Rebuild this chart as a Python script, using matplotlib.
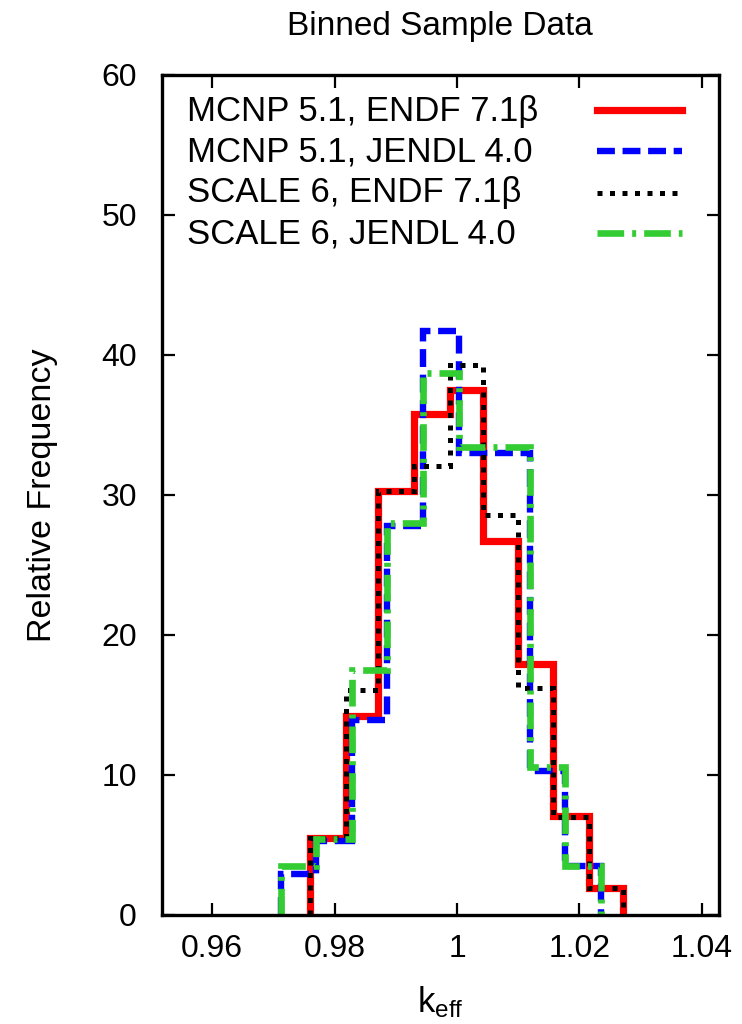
import matplotlib
matplotlib.use("Agg")
import matplotlib.pyplot as plt
from matplotlib.lines import Line2D

plt.rcParams['font.family'] = ['Liberation Sans', 'DejaVu Sans']
plt.rcParams['mathtext.fontset'] = 'custom'
plt.rcParams['mathtext.rm'] = 'Liberation Sans'

# ---- data ----
edges_endf = [0.9760, 0.9818, 0.9871, 0.9930, 0.9988, 1.0043, 1.0100, 1.0157, 1.0215, 1.0271]
edges_jendl = [0.9712, 0.9770, 0.9828, 0.9886, 0.9945, 1.0003, 1.0061, 1.0119, 1.0177, 1.0235]

mcnp_endf = [5.5, 14.2, 30.3, 35.8, 37.5, 26.7, 17.9, 7.1, 1.9]
mcnp_jendl = [2.9, 5.3, 13.9, 27.8, 41.7, 33.0, 33.0, 10.3, 3.5]
scale_endf = [5.5, 16.1, 30.3, 32.1, 39.3, 28.6, 16.2, 7.0, 1.9]
scale_jendl = [3.5, 5.4, 17.5, 28.0, 38.7, 33.4, 33.4, 10.6, 3.5]

labels = ["MCNP 5.1, ENDF 7.1\u03b2", "MCNP 5.1, JENDL 4.0",
          "SCALE 6, ENDF 7.1\u03b2", "SCALE 6, JENDL 4.0"]
x_ticks = [0.96, 0.98, 1.00, 1.02, 1.04]
x_ticklabels = ["0.96", "0.98", "1", "1.02", "1.04"]
y_ticks = [0, 10, 20, 30, 40, 50, 60]

# ---- styles ----
styles = [
    dict(color='#ff0000', lw=5.2, ls='-'),
    dict(color='#0000ff', lw=4.6, ls=(0, (2.8, 1.2))),
    dict(color='#000000', lw=3.6, ls=(0, (1.0, 1.5))),
    dict(color='#33cc33', lw=4.8, ls=(0, (4.0, 1.2, 0.6, 1.2))),
]
series = [(mcnp_endf, edges_endf), (mcnp_jendl, edges_jendl),
          (scale_endf, edges_endf), (scale_jendl, edges_jendl)]

W, H = 742, 1024
fig = plt.figure(figsize=(W / 100, H / 100), dpi=100)
L, R, T, B = 162, 719, 75, 915
ax = fig.add_axes([L / W, 1 - B / H, (R - L) / W, (B - T) / H])

for (vals, edg), st in zip(series, styles):
    ax.stairs(vals, edg, baseline=0, fill=False, color=st['color'],
              linewidth=st['lw'], linestyle=st['ls'])

ax.set_xlim(0.9518, 1.0428)
ax.set_ylim(0, 60)
ax.set_xticks(x_ticks)
ax.set_xticklabels(x_ticklabels)
ax.set_yticks(y_ticks)
ax.tick_params(direction='in', length=9, width=1.6, top=True, right=True,
               labelsize=23)
ax.tick_params(axis='x', pad=14)
ax.tick_params(axis='y', pad=18)
for s in ax.spines.values():
    s.set_linewidth(2.4)

ax.set_xlabel(r'$\mathregular{k_{eff}}$', fontsize=25)
ax.xaxis.set_label_coords(0.5, -0.082)
ax.set_ylabel('Relative Frequency', fontsize=24.5)
ax.yaxis.set_label_coords(-0.187, 0.5)

fig.text(440 / W, 1 - 26 / H, 'Binned Sample Data', fontsize=24,
         ha='center', va='center')

# ---- gnuplot-style key: text left, sample on right ----
ax_w, ax_h = R - L, B - T
line_y = [110, 151, 192.5, 233]
text_base = [121.5, 161.7, 202, 243]
tx = (187 - L) / ax_w
sx0, sx1 = (597 - L) / ax_w, (682 - L) / ax_w
for lab, st, ly, tb in zip(labels, styles, line_y, text_base):
    ax.text(tx, (B - tb) / ax_h, lab, transform=ax.transAxes, fontsize=25,
            ha='left', va='baseline')
    yy = (B - ly) / ax_h
    ax.add_line(Line2D([sx0, sx1], [yy, yy], transform=ax.transAxes,
                       color=st['color'], linewidth=st['lw'],
                       linestyle=st['ls']))

fig.savefig('out.png', dpi=100)
